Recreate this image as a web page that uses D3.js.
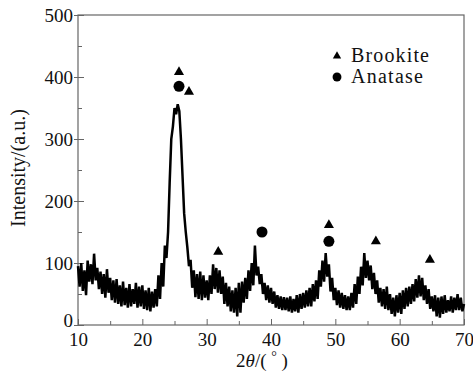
<!DOCTYPE html>
<html>
<head>
<meta charset="utf-8">
<script src="https://cdn.jsdelivr.net/npm/d3@7/dist/d3.min.js"></script>
<style>
  html, body { margin: 0; padding: 0; background: #fff; }
  svg text { font-family: "Liberation Serif", "DejaVu Serif", serif; fill: #111; }
</style>
</head>
<body>
<div id="chart"></div>
<script>
// 2-theta scan, one reading every 0.25 deg from 10 to 70
const thetaStart = 10;
const thetaStep = 0.25;
const intensity = [
  95, 62, 100, 55,   88, 48, 104, 70,   98, 66, 115, 72,   92, 58, 86, 50,
  82, 44, 90, 52,    76, 40, 72, 36,    74, 34, 64, 30,    70, 32, 60, 28,
  66, 30, 58, 34,    68, 28, 62, 30,    64, 26, 56, 24,    60, 22, 54, 28,
  58, 30, 80, 42,    100, 62, 128, 108, 150, 230, 300, 320, 350, 340, 356, 345,
  300, 240, 180, 150, 125, 95, 105, 60,  88, 45, 82, 42,    86, 40, 80, 44,
  72, 40, 80, 50,    98, 58, 92, 52,    88, 50, 78, 34,    68, 30, 62, 22,
  56, 20, 60, 14,    68, 20, 70, 36,    76, 42, 88, 55,    100, 64, 128, 80,
  94, 66, 82, 50,    68, 40, 64, 36,    60, 34, 54, 28,    48, 26, 46, 24,
  45, 24, 44, 22,    46, 20, 42, 22,    48, 20, 50, 26,    52, 28, 56, 30,
  60, 30, 66, 38,    72, 42, 88, 62,    104, 70, 116, 78,  98, 54, 76, 40,
  60, 32, 56, 28,    52, 26, 48, 24,    46, 24, 52, 28,    66, 34, 78, 50,
  94, 64, 116, 76,   104, 72, 96, 58,   84, 50, 72, 36,    60, 30, 58, 26,
  62, 24, 50, 18,    44, 14, 48, 20,    52, 18, 56, 26,    60, 30, 62, 34,
  66, 38, 74, 44,    80, 46, 76, 40,    64, 34, 58, 26,    46, 22, 48, 14,
  44, 12, 46, 18,    48, 20, 40, 22,    46, 20, 44, 24,    50, 24, 44, 22,
  34
];

const brookitePeaks = [[25.7, 408], [27.25, 376], [31.8, 118], [49.0, 161], [56.3, 135], [64.7, 105]];
const anatasePeaks = [[25.7, 385], [38.6, 150], [49.0, 135]];

const xMajor = [10, 20, 30, 40, 50, 60, 70];
const xMinor = [15, 25, 35, 45, 55, 65];
const yMajor = [0, 100, 200, 300, 400, 500];
const yMinor = [50, 150, 250, 350, 450];

const legendItems = [
  { label: "Brookite", shape: "triangle" },
  { label: "Anatase", shape: "circle" },
];

const width = 473, height = 371;
const margin = { top: 15, right: 9, bottom: 46, left: 78 };
const innerW = width - margin.left - margin.right;
const innerH = height - margin.top - margin.bottom;
const axisColor = "#666";

const svg = d3.select("#chart").append("svg")
  .attr("width", width)
  .attr("height", height);

const g = svg.append("g")
  .attr("transform", `translate(${margin.left},${margin.top})`);

const x = d3.scaleLinear().domain([10, 70]).range([0, innerW]);
const y = d3.scaleLinear().domain([0, 500]).range([innerH, 0]);

// frame
g.append("rect")
  .attr("width", innerW)
  .attr("height", innerH)
  .attr("fill", "none")
  .attr("stroke", axisColor)
  .attr("stroke-width", 1.2);

// minor ticks first
g.append("g")
  .attr("transform", `translate(0,${innerH})`)
  .call(d3.axisBottom(x).tickValues(xMinor).tickSize(-4).tickFormat(""))
  .call(a => a.select(".domain").remove())
  .call(a => a.selectAll("line").attr("stroke", axisColor));

g.append("g")
  .call(d3.axisLeft(y).tickValues(yMinor).tickSize(-4).tickFormat(""))
  .call(a => a.select(".domain").remove())
  .call(a => a.selectAll("line").attr("stroke", axisColor));

const xAxis = g.append("g")
  .attr("transform", `translate(0,${innerH})`)
  .call(d3.axisBottom(x).tickValues(xMajor).tickSize(-6).tickPadding(8).tickFormat(d3.format("d")));
xAxis.select(".domain").remove();
xAxis.selectAll("line").attr("stroke", axisColor);
xAxis.selectAll("text").attr("font-size", 19).attr("fill", "#111");

const yAxis = g.append("g")
  .call(d3.axisLeft(y).tickValues(yMajor).tickSize(-6).tickPadding(5).tickFormat(d3.format("d")));
yAxis.select(".domain").remove();
yAxis.selectAll("line").attr("stroke", axisColor).attr("x1", -4);
yAxis.selectAll("text").attr("font-size", 19).attr("fill", "#111");
yAxis.selectAll("text").filter(d => d === 0).attr("dy", "0.1em");

// pattern
const line = d3.line()
  .x((d, i) => x(thetaStart + i * thetaStep))
  .y(d => y(d));

g.append("path")
  .datum(intensity)
  .attr("d", line)
  .attr("fill", "none")
  .attr("stroke", "#000")
  .attr("stroke-width", 2.5)
  .attr("stroke-linejoin", "miter");

// peak markers
const tri = d3.symbol().type(d3.symbolTriangle).size(44);
const dot = d3.symbol().type(d3.symbolCircle).size(95);

g.selectAll(".brookite")
  .data(brookitePeaks)
  .enter().append("path")
  .attr("class", "brookite")
  .attr("d", tri)
  .attr("transform", d => `translate(${x(d[0])},${y(d[1])})`)
  .attr("fill", "#000");

g.selectAll(".anatase")
  .data(anatasePeaks)
  .enter().append("path")
  .attr("class", "anatase")
  .attr("d", dot)
  .attr("transform", d => `translate(${x(d[0])},${y(d[1])})`)
  .attr("fill", "#000");

// legend
const legend = svg.append("g").attr("transform", "translate(337,0)");
legendItems.forEach((item, i) => {
  const cy = 56 + i * 21;
  legend.append("path")
    .attr("d", item.shape === "triangle"
      ? d3.symbol().type(d3.symbolTriangle).size(30)()
      : d3.symbol().type(d3.symbolCircle).size(62)())
    .attr("transform", `translate(0,${cy})`)
    .attr("fill", "#000");
  legend.append("text")
    .attr("x", 14)
    .attr("y", cy + 6)
    .attr("font-size", 20)
    .attr("textLength", i === 0 ? 78 : 72)
    .text(item.label);
});

// axis titles
const xTitle = svg.append("text")
  .attr("x", 262)
  .attr("y", 367)
  .attr("text-anchor", "middle")
  .attr("font-size", 19);
xTitle.append("tspan").text("2");
xTitle.append("tspan").attr("font-style", "italic").text("θ");
xTitle.append("tspan").text("/( ");
xTitle.append("tspan").attr("dy", -6).attr("font-size", 14).text("°");
xTitle.append("tspan").attr("dy", 6).text(" )");

svg.append("text")
  .attr("transform", "translate(25,168) rotate(-90)")
  .attr("text-anchor", "middle")
  .attr("font-size", 20)
  .text("Intensity/(a.u.)");
</script>
</body>
</html>
